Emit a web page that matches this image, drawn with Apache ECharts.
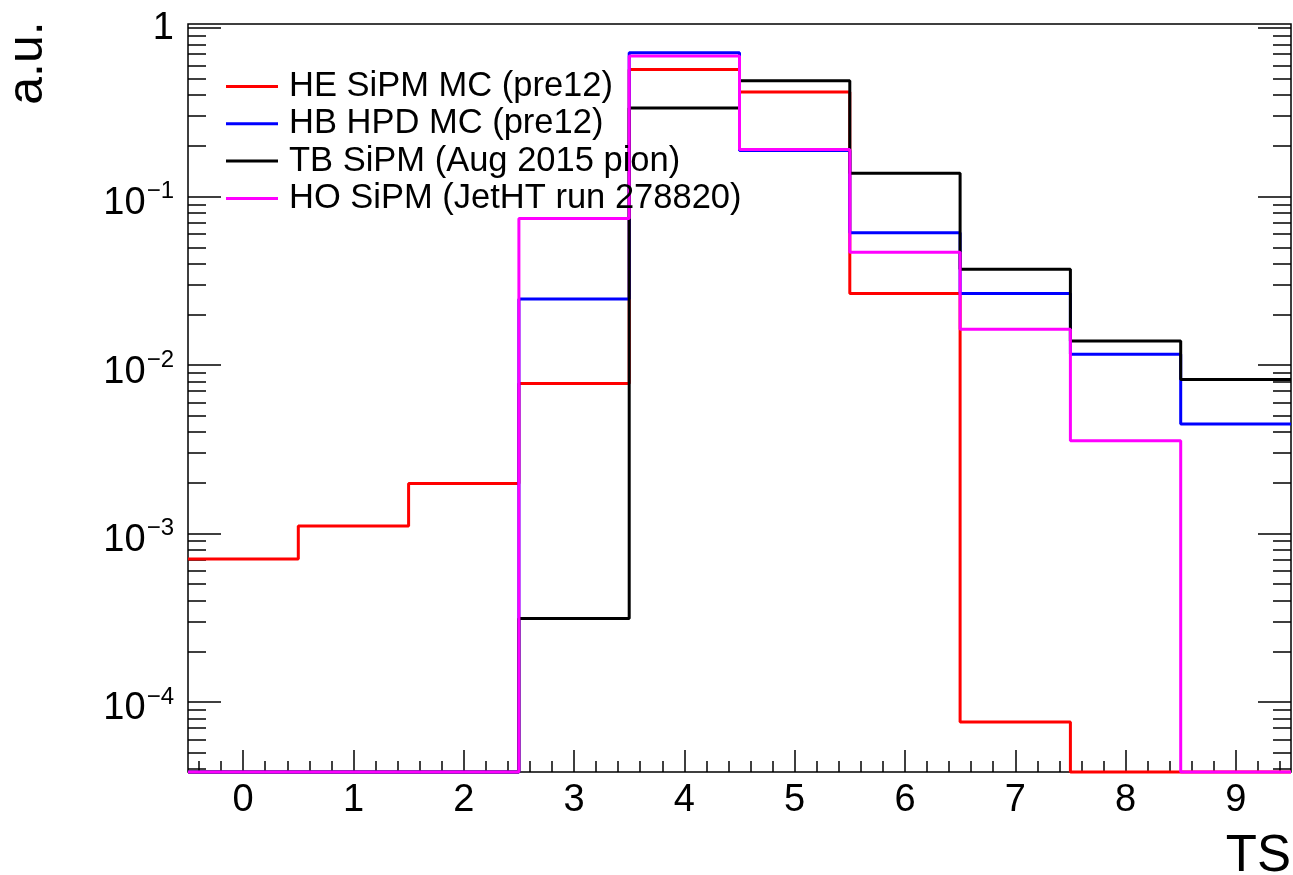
<!DOCTYPE html>
<html>
<head>
<meta charset="utf-8">
<script src="https://cdn.jsdelivr.net/npm/echarts@6/dist/echarts.min.js"></script>
<style>
  html, body { margin: 0; padding: 0; background: #fff; }
  #chart { width: 1293px; height: 875px; }
</style>
</head>
<body>
<div id="chart"></div>
<script>
// time slice index, one bin per TS
const bins = [0, 1, 2, 3, 4, 5, 6, 7, 8, 9]

// pulse shapes (a.u.), 0 = empty bin
const heSipmMC = [7.06e-4, 1.11e-3, 1.98e-3, 7.78e-3, 0.569, 0.417, 0.0266, 7.6e-5, 0, 0]
const hbHpdMC = [0, 0, 0, 0.0247, 0.714, 0.1876, 0.0610, 0.0266, 0.0116, 0.00446]
const tbSipm = [0, 0, 0, 3.13e-4, 0.336, 0.487, 0.1375, 0.0370, 0.0139, 0.0082]
const hoSipm = [0, 0, 0, 0.0742, 0.683, 0.1905, 0.0467, 0.0163, 0.00355, 0]

const seriesNames = [
  'HE SiPM MC (pre12)',
  'HB HPD MC (pre12)',
  'TB SiPM (Aug 2015 pion)',
  'HO SiPM (JetHT run 278820)'
]
const seriesColors = ['#ff0000', '#0000ff', '#000000', '#ff00ff']

// axis ranges and ticks
const xMin = -0.5
const xMax = 9.5
const yMin = 3.84e-5
const yMax = 1.058
const xMajorTicks = [0, 1, 2, 3, 4, 5, 6, 7, 8, 9]
const yMajorTicks = [1e-4, 1e-3, 1e-2, 1e-1, 1]

const xMinorTicks = []
for (let i = -2; i <= 47; i++) {
  if (i % 5 !== 0) xMinorTicks.push(+(i * 0.2).toFixed(1))
}
const yMinorTicks = []
for (let e = -5; e <= 0; e++) {
  for (let k = 2; k <= 9; k++) {
    const v = +(k * Math.pow(10, e)).toPrecision(3)
    if (v > yMin && v < yMax) yMinorTicks.push(v)
  }
}

const FONT = '"Liberation Sans", Helvetica, Arial, sans-serif'

// histogram outline: one point per lower bin edge, plus the last upper edge
function histPoints(values) {
  const pts = bins.map((b, i) => [b - 0.5, values[i] > 0 ? values[i] : yMin])
  const last = values[values.length - 1]
  pts.push([bins[bins.length - 1] + 0.5, last > 0 ? last : yMin])
  return pts
}

function yLabel(v) {
  const e = Math.round(Math.log10(v))
  if (e === 0) return '{one|1}'
  return '{b|10}{s|' + (e < 0 ? '\u2212' : '') + Math.abs(e) + '}'
}

const chart = echarts.init(document.getElementById('chart'))

const tickStyle = { color: '#000', width: 1.5 }

const yBase = {
  type: 'log',
  logBase: 10,
  min: yMin,
  max: yMax,
  splitLine: { show: false },
  axisLine: { show: false, onZero: false }
}
const xBase = {
  type: 'value',
  min: xMin,
  max: xMax,
  position: 'bottom',
  splitLine: { show: false },
  axisLine: { show: false, onZero: false }
}

chart.setOption({
  animation: false,
  backgroundColor: '#fff',
  textStyle: { fontFamily: FONT },
  grid: {
    left: 188,
    right: 2,
    top: 24,
    bottom: 103,
    containLabel: false,
    outerBoundsMode: 'none',
    show: true,
    borderColor: '#000',
    borderWidth: 1.5
  },
  legend: {
    data: seriesNames,
    orient: 'vertical',
    left: 226,
    top: 69,
    padding: 0,
    itemWidth: 52,
    itemHeight: 3,
    itemGap: 2.3,
    icon: 'rect',
    textStyle: { fontSize: 34.5, lineHeight: 34, color: '#000', fontFamily: FONT, padding: [0, 0, 0, 6] }
  },
  graphic: [{
    type: 'text',
    x: 28,
    y: 63,
    rotation: Math.PI / 2,
    style: {
      text: 'a.u.',
      font: '50px ' + FONT,
      fill: '#000',
      align: 'center',
      verticalAlign: 'middle'
    }
  }],
  xAxis: [
    Object.assign({}, xBase, {
      name: 'TS',
      nameLocation: 'end',
      nameGap: 0,
      nameMoveOverlap: false,
      nameTextStyle: {
        fontSize: 51, lineHeight: 51, color: '#000', fontFamily: FONT,
        align: 'right', verticalAlign: 'top', padding: [59, 0, 0, 0]
      },
      axisTick: { inside: true, length: 22, customValues: xMajorTicks, lineStyle: tickStyle },
      axisLabel: { customValues: xMajorTicks, fontSize: 38, color: '#000', margin: 10, fontFamily: FONT }
    }),
    Object.assign({}, xBase, {
      axisTick: { inside: true, length: 11, customValues: xMinorTicks, lineStyle: tickStyle },
      axisLabel: { show: false }
    })
  ],
  yAxis: [
    Object.assign({}, yBase, {
      position: 'left',
      axisTick: { inside: true, length: 33, customValues: yMajorTicks, lineStyle: tickStyle },
      axisLabel: {
        customValues: yMajorTicks,
        formatter: yLabel,
        margin: 14,
        color: '#000',
        rich: {
          one: { fontSize: 38, lineHeight: 40, fontFamily: FONT, color: '#000' },
          b: { fontSize: 38, lineHeight: 52, verticalAlign: 'bottom', fontFamily: FONT, color: '#000' },
          s: { fontSize: 24, verticalAlign: 'bottom', padding: [0, 0, 19, 1], fontFamily: FONT, color: '#000' }
        }
      }
    }),
    Object.assign({}, yBase, {
      position: 'left',
      axisTick: { inside: true, length: 18, customValues: yMinorTicks, lineStyle: tickStyle },
      axisLabel: { show: false }
    }),
    Object.assign({}, yBase, {
      position: 'right',
      axisTick: { inside: true, length: 33, customValues: yMajorTicks, lineStyle: tickStyle },
      axisLabel: { show: false }
    }),
    Object.assign({}, yBase, {
      position: 'right',
      axisTick: { inside: true, length: 18, customValues: yMinorTicks, lineStyle: tickStyle },
      axisLabel: { show: false }
    })
  ],
  series: [heSipmMC, hbHpdMC, tbSipm, hoSipm].map((vals, i) => ({
    name: seriesNames[i],
    type: 'line',
    step: 'end',
    xAxisIndex: 0,
    yAxisIndex: 0,
    symbol: 'none',
    clip: false,
    color: seriesColors[i],
    lineStyle: { width: 3, color: seriesColors[i] },
    data: histPoints(vals)
  }))
})
</script>
</body>
</html>
